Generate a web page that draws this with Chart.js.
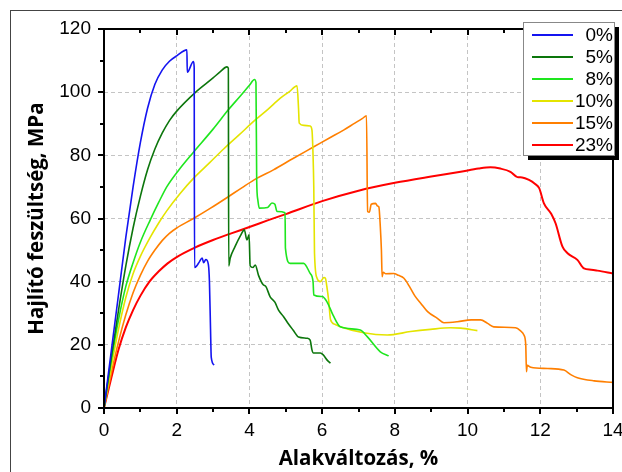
<!DOCTYPE html>
<html>
<head>
<meta charset="utf-8">
<script src="https://cdn.jsdelivr.net/npm/chart.js@4"></script>
<style>
  html, body { margin: 0; padding: 0; background: #fff; }
  #wrap { width: 622px; height: 472px; }
</style>
</head>
<body>
<div id="wrap"><canvas id="chart" width="622" height="472"></canvas></div>
<script>
// Series labels and colours
const labels = ['0%', '5%', '8%', '10%', '15%', '23%'];
const colors = ['#1414f0', '#0c760c', '#1ee61e', '#e4e400', '#ff7f00', '#ff0000'];

// Strain (%) / stress (MPa)
const strain0 = [0, 0.2, 0.4, 0.6, 0.8, 1.0, 1.2, 1.4, 1.6, 1.8, 2.0, 2.28, 2.29, 2.46, 2.48, 2.49, 2.55, 2.62, 2.7, 2.74, 2.8, 2.87, 2.9, 2.93, 2.95, 3.03];
const stress0 = [0, 18, 36, 54, 70, 84, 95, 102.5, 107, 109.8, 111.5, 113.4, 106.3, 109.7, 108, 44.5, 45, 46.2, 47.5, 46, 47, 45.5, 40, 25, 16, 13.6];

const strain5 = [0, 0.2, 0.4, 0.6, 0.8, 1.0, 1.2, 1.4, 1.6, 1.8, 2.0, 2.5, 3.0, 3.2, 3.38, 3.42, 3.43, 3.47, 3.6, 3.75, 3.86, 3.93, 3.99, 4.02, 4.1, 4.16, 4.25, 4.38, 4.45, 4.57, 4.7, 4.8, 4.94, 5.05, 5.2, 5.35, 5.59, 5.67, 5.72, 5.76, 5.95, 6.03, 6.15, 6.23];
const stress5 = [0, 16, 31, 45, 57, 67, 75.5, 82, 87, 91, 94, 99.8, 104.5, 106.5, 108, 107.6, 45, 47.4, 51, 54.5, 56.4, 53.2, 54.8, 45, 44.5, 45.3, 42, 39, 38.5, 35.2, 33.5, 31, 28.9, 27, 24.7, 22.5, 22.1, 21.5, 18.4, 17.4, 17.4, 16.8, 15, 14.2];

const strain8 = [0, 0.2, 0.4, 0.6, 0.8, 1.0, 1.27, 1.5, 1.73, 2.1, 2.46, 3.0, 3.42, 3.75, 4.0, 4.14, 4.18, 4.2, 4.23, 4.27, 4.5, 4.62, 4.7, 4.76, 4.98, 4.99, 5.12, 5.49, 5.67, 5.75, 5.77, 6.0, 6.13, 6.3, 6.5, 7.05, 7.24, 7.6, 7.83];
const stress8 = [0, 15, 28, 38.5, 46, 52.5, 59.5, 65, 70.1, 76, 81, 88.3, 94.4, 98.8, 102.2, 104, 103, 72, 66, 63.3, 63.5, 64.9, 64.5, 62.2, 61.8, 50.6, 45.8, 45.8, 42.6, 40, 35.8, 35.3, 33.7, 29.4, 25.7, 24.7, 22.6, 17.8, 16.5];

const strain10 = [0, 0.2, 0.4, 0.6, 0.8, 1.0, 1.27, 1.5, 1.73, 2.1, 2.46, 2.9, 3.29, 3.7, 4.16, 4.5, 4.85, 5.1, 5.31, 5.35, 5.37, 5.5, 5.67, 5.72, 5.75, 5.77, 5.79, 5.86, 5.95, 6.05, 6.09, 6.13, 6.18, 6.23, 6.35, 6.5, 7.14, 7.79, 8.43, 8.98, 9.53, 9.81, 10.27];
const stress10 = [0, 13, 25, 35, 42.5, 48, 54, 58.5, 62.5, 68, 72.7, 77.6, 82, 86.3, 91.2, 94.5, 98.1, 100.2, 102, 95, 90.2, 89.5, 89.3, 88, 80, 70, 49, 41.1, 40, 41.3, 41.1, 38.4, 34, 28, 26.5, 25.7, 23.8, 23.1, 24.2, 24.9, 25.4, 25.3, 24.5];

const strain15 = [0, 0.2, 0.4, 0.6, 0.8, 1.0, 1.2, 1.4, 1.6, 1.8, 2.0, 2.46, 2.92, 3.42, 3.8, 4.2, 4.66, 5.2, 5.77, 6.2, 6.59, 6.9, 7.1, 7.22, 7.25, 7.3, 7.35, 7.47, 7.52, 7.56, 7.6, 7.63, 7.65, 7.68, 7.75, 7.97, 8.1, 8.25, 8.4, 8.55, 8.71, 8.9, 9.17, 9.35, 9.72, 10.1, 10.36, 10.55, 10.72, 11.32, 11.45, 11.55, 11.6, 11.62, 11.64, 11.74, 12.2, 12.65, 12.85, 13.02, 13.48, 14];
const stress15 = [0, 11, 21, 29.5, 36.5, 42, 46.5, 50, 53, 55.3, 57, 60, 63.2, 66.9, 69.8, 72.7, 75.4, 79, 82.7, 85.5, 88, 90.2, 91.6, 92.5, 62.2, 62, 64.5, 64.8, 64, 63.7, 57.4, 50, 41.6, 43, 42.5, 42.6, 42, 41.1, 38.5, 35.5, 33.2, 30.5, 28.4, 27, 27.3, 27.9, 27.9, 26.8, 25.7, 25.4, 24.5, 23.1, 20, 11.5, 13.5, 12.9, 12.5, 12, 10.5, 9.6, 8.6, 8.1];

const strain23 = [0, 0.2, 0.4, 0.6, 0.8, 1.0, 1.25, 1.5, 1.75, 2.0, 2.5, 3.0, 3.5, 4.0, 4.5, 5.0, 6.0, 7.0, 8.0, 9.0, 9.81, 10.3, 10.63, 10.9, 11.18, 11.37, 11.5, 11.69, 11.85, 11.97, 12.1, 12.3, 12.42, 12.61, 12.75, 13.02, 13.2, 13.4, 13.57, 14];
const stress23 = [0, 9.5, 18.5, 25.5, 31, 35.5, 40, 43.2, 45.8, 47.8, 50.8, 53.2, 55.3, 57.3, 59.4, 61.4, 65.5, 68.8, 71.3, 73.3, 74.8, 75.8, 76.2, 75.8, 74.8, 73.1, 73, 72.2, 71, 69.6, 64.8, 61.5, 58.5, 51.1, 49, 46.9, 44.2, 43.8, 43.5, 42.6];

// Axis ranges and ticks
const xMin = 0, xMax = 14, xStep = 2, xMinor = 1;
const yMin = 0, yMax = 120, yStep = 20, yMinor = 10;

const strains = [strain0, strain5, strain8, strain10, strain15, strain23];
const stresses = [stress0, stress5, stress8, stress10, stress15, stress23];

function toPoints(xs, ys) {
  return xs.map((v, i) => ({ x: v, y: ys[i] }));
}

const datasets = labels.map((lab, i) => ({
  label: lab,
  data: toPoints(strains[i], stresses[i]),
  borderColor: colors[i],
  borderWidth: i === 5 ? 2 : 1.6,
  pointRadius: 0,
  cubicInterpolationMode: 'monotone',
  fill: false
}));

const tickFont = { family: 'Liberation Sans, Arial, sans-serif', size: 19 };
const titleFont = { family: 'Open Sans, sans-serif', size: 20.5, weight: 'bold' };

// Frame, tick marks, outer border and legend box
const framePlugin = {
  id: 'framePlugin',
  afterDraw(chart) {
    const { ctx, chartArea: a, scales: { x, y } } = chart;
    ctx.save();
    ctx.strokeStyle = '#444';
    ctx.lineWidth = 1;
    ctx.strokeRect(10.5, 10.5, 800, 800);

    ctx.strokeStyle = '#000';
    ctx.lineWidth = 2;
    ctx.strokeRect(a.left, a.top, a.right - a.left, a.bottom - a.top);

    ctx.beginPath();
    for (let v = xMin; v <= xMax; v += xMinor) {
      const px = Math.round(x.getPixelForValue(v));
      const len = v % xStep === 0 ? 6 : 4;
      ctx.moveTo(px, a.bottom); ctx.lineTo(px, a.bottom + len);
      ctx.moveTo(px, a.top); ctx.lineTo(px, a.top + len);
    }
    for (let v = yMin; v <= yMax; v += yMinor) {
      const py = Math.round(y.getPixelForValue(v));
      const len = v % yStep === 0 ? 6 : 4;
      ctx.moveTo(a.left, py); ctx.lineTo(a.left - len, py);
    }
    ctx.stroke();

    // legend
    const lx = 523, ly = 22, lw = 91, lh = 133;
    ctx.fillStyle = '#000';
    ctx.fillRect(lx + 5, ly + 5, lw, lh);
    ctx.fillStyle = '#fff';
    ctx.fillRect(lx, ly, lw, lh);
    ctx.strokeStyle = '#888';
    ctx.lineWidth = 1;
    ctx.strokeRect(lx + 0.5, ly + 0.5, lw, lh);
    ctx.font = '19px Liberation Sans, Arial, sans-serif';
    ctx.textAlign = 'right';
    ctx.textBaseline = 'middle';
    chart.data.datasets.forEach((ds, i) => {
      const cy = 35 + i * 22;
      ctx.strokeStyle = ds.borderColor;
      ctx.lineWidth = 2;
      ctx.beginPath();
      ctx.moveTo(532, cy); ctx.lineTo(573, cy);
      ctx.stroke();
      ctx.fillStyle = '#000';
      ctx.fillText(ds.label, 613, cy + 1);
    });
    ctx.restore();
  }
};

new Chart(document.getElementById('chart'), {
  type: 'line',
  data: { datasets },
  plugins: [framePlugin],
  options: {
    responsive: false,
    animation: false,
    layout: { padding: { left: 0, top: 29, right: 9, bottom: 0 } },
    plugins: { legend: { display: false }, tooltip: { enabled: false } },
    scales: {
      x: {
        type: 'linear',
        min: xMin, max: xMax,
        afterFit(s) { s.height = 64; s.paddingRight = 0; s.paddingLeft = 0; },
        ticks: { stepSize: xStep, color: '#000', font: tickFont, padding: 11, maxRotation: 0 },
        grid: { color: '#c4c4c4', drawTicks: false },
        border: { display: false, dash: [4, 3] },
        title: { display: true, text: 'Alakváltozás, %', color: '#000', font: titleFont, padding: { top: 0, bottom: 1 } }
      },
      y: {
        type: 'linear',
        min: yMin, max: yMax,
        afterFit(s) { s.width = 104; s.paddingTop = 0; s.paddingBottom = 0; },
        ticks: { stepSize: yStep, color: '#000', font: tickFont, padding: 13 },
        grid: { color: '#c4c4c4', drawTicks: false },
        border: { display: false, dash: [4, 3] },
        title: { display: true, text: 'Hajlító feszültség, MPa', color: '#000', font: titleFont, padding: { top: 25, bottom: 0 } }
      }
    }
  }
});
</script>
</body>
</html>
